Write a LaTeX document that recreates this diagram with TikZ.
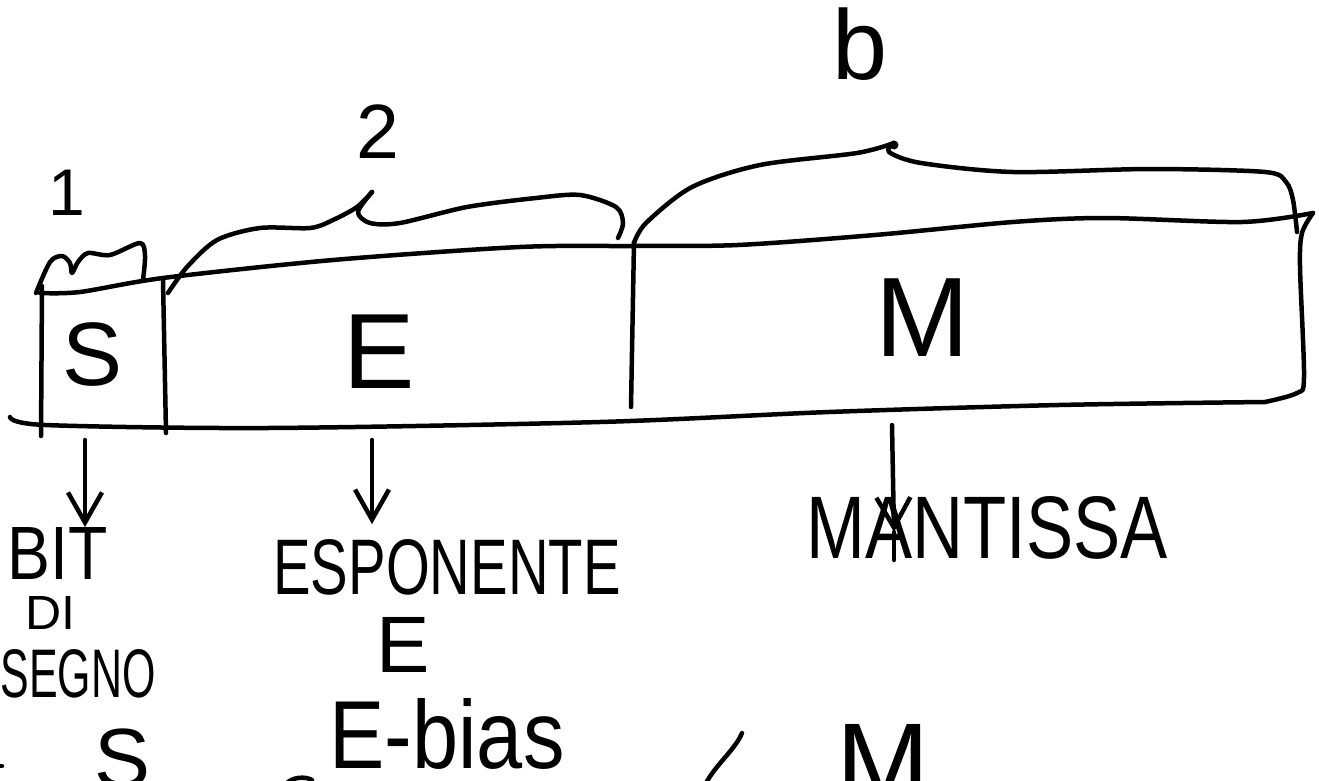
\documentclass[tikz,border=0pt]{standalone}
\usepackage{fontspec}
\setmainfont{Liberation Sans}
\usetikzlibrary{arrows.meta,calc}
\newcommand{\hwbox}[3]{\resizebox{#1pt}{#2pt}{#3}}
\begin{document}
\begin{tikzpicture}[x=1pt,y=-1pt,
  ink/.style={line width=4.5pt,line cap=round,line join=round},
  lbl/.style={inner sep=0pt,outer sep=0pt,anchor=center},
  arr/.style={ink,-{Straight Barb[length=30pt,width=34pt]}}]
\useasboundingbox (0,0) rectangle (1319,781);
\clip (0,0) rectangle (1319,781);

% ---- the word frame ----
\draw[ink] plot[smooth,tension=0.5] coordinates {(40,293) (80,292) (163,278) (333,260) (520,247) (634,246) (738,245) (875,235) (1013,222) (1105,218) (1242,222) (1313,213)};
\draw[ink] plot[smooth,tension=0.5] coordinates {(1313,213) (1302,233) (1300,267) (1304,377) (1297,393) (1265,402)};
\draw[ink] plot[smooth,tension=0.5] coordinates {(1265,402) (1059,405) (829,412) (600,422) (268,428) (45,425) (10,417)};
\draw[ink] (42,286) -- (41,436);
\draw[ink] (163,280) -- (166,433);
\draw[ink] (634,242) -- (631,407);

% ---- braces ----
\draw[ink] plot[smooth,tension=0.5] coordinates {(36,293) (50,262) (62,256) (70,263) (72,273) (78,262) (88,253) (110,255) (140,243) (145,256) (143,280)};
\draw[ink] plot[smooth,tension=0.5] coordinates {(168,293) (187,267) (217,240) (260,228) (310,228) (333,220) (357,207) (372,192)};
\draw[ink] plot[smooth,tension=0.5] coordinates {(372,192) (358,212) (370,223) (400,223) (467,207) (536,198) (580,195) (616,207) (623,223) (618,238)};
\draw[ink] plot[smooth,tension=0.5] coordinates {(634,243) (646,223) (692,187) (760,165) (857,153) (894,143)};
\draw[ink] plot[smooth,tension=0.5] coordinates {(894,143) (889,152) (921,163) (1013,172) (1150,169) (1265,172) (1286,182) (1293,200) (1297,232)};
\fill (894,145) circle (4.5pt);

% ---- labels over the braces ----
\node[lbl,font=\fontsize{66}{66}\selectfont] (one) at (67,193) {1};
\node[lbl,font=\fontsize{77}{77}\selectfont] (two) at (378,132) {2};
\node[lbl,font=\fontsize{99}{99}\selectfont] (b) at (860,44) {b};

% ---- field letters ----
\node[lbl,font=\fontsize{90}{90}\selectfont] (sf) at (93,355) {S};
\node[lbl,font=\fontsize{107}{107}\selectfont] (ef) at (379,352) {E};
\node[lbl,font=\fontsize{113}{113}\selectfont] (mf) at (923,318) {M};

% ---- descriptions ----
\node[lbl] (bit) at (58,553) {\hwbox{100}{52}{BIT}};
\node[lbl] (di) at (50,613) {\hwbox{50}{33}{DI}};
\node[lbl] (segno) at (78,674) {\hwbox{155}{48}{SEGNO}};
\node[lbl] (esp) at (447,567) {\hwbox{347}{55}{ESPONENTE}};
\node[lbl,font=\fontsize{80}{80}\selectfont] (e2) at (403,645) {E};
\node[lbl] (ebias) at (447,734) {\hwbox{235}{70}{E-bias}};
\node[lbl] (mant) at (987,528) {\hwbox{361}{62}{MANTISSA}};

% ---- cut-off bottom writing ----
\node[lbl,font=\fontsize{84}{84}\selectfont] (s2) at (123,759) {S};
\node[lbl,font=\fontsize{112}{112}\selectfont] (m2) at (883,763) {M};
\draw[ink] (742,733) .. controls (735,750) and (715,765) .. (705,785);
\draw[ink] (286,784) .. controls (292,777) and (305,776) .. (312,780);
\draw[ink] (-2,766) -- (2,766);

% ---- arrows ----
\coordinate (sa) at (85,440);
\coordinate (ea) at (372,440);
\coordinate (ma) at (892,425);
\coordinate (mtip) at (894,532);
\coordinate (mend) at (894,560);
\draw[arr] (sa) -- (sa |- bit.north);
\draw[arr] (ea) -- ($(ea |- esp.north)+(0,-15)$);
\draw[arr] (ma) -- (mtip);
\draw[ink] (mtip) -- (mend);
\end{tikzpicture}
\end{document}
